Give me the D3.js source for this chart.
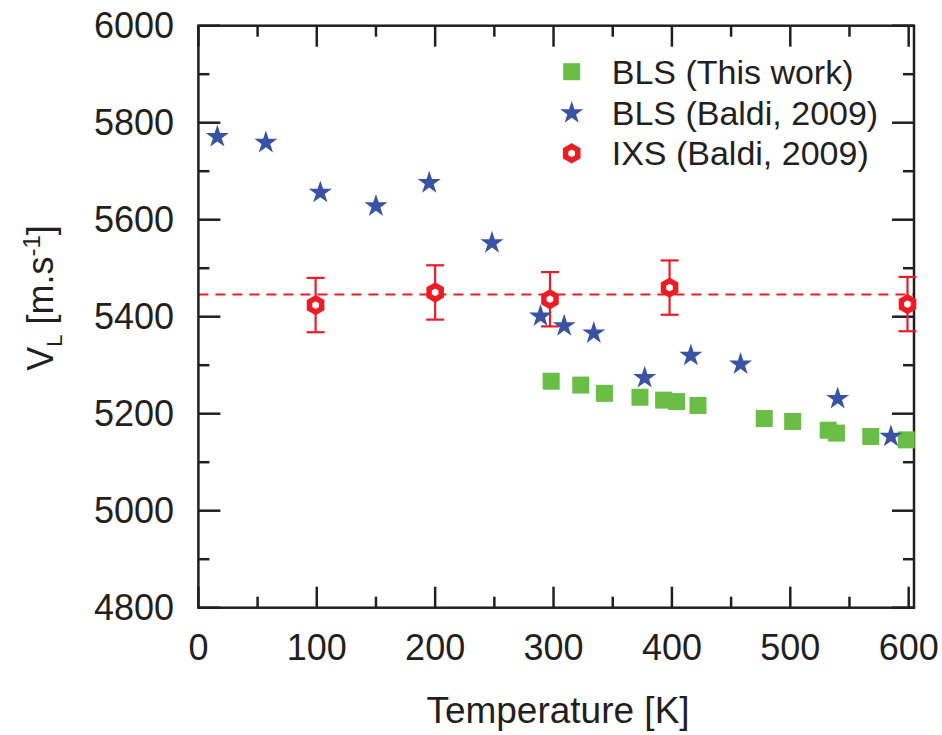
<!DOCTYPE html>
<html>
  <head>
    <script src="https://d3js.org/d3.v7.min.js"></script>
    <style>
      html,
      body {
        margin: 0;
        background: #fff;
        font-family: "Liberation Sans", Arial, sans-serif;
      }
    </style>
  </head>
  <body>
    <div id="chart"></div>
    <script>
      // BLS (This work)
      const blsThisT = [298, 323, 343, 373, 393, 404, 422, 478, 502, 532, 539, 568, 598];
      const blsThisV = [5267, 5259, 5242, 5234, 5228, 5225, 5217, 5190, 5184, 5166, 5160, 5153, 5146];

      // BLS (Baldi, 2009)
      const blsBaldiT = [16, 57, 103, 150, 195, 248, 289, 309, 334, 377, 416, 458, 540, 585];
      const blsBaldiV = [5771, 5759, 5656, 5628, 5676, 5552, 5401, 5381, 5366, 5274, 5320, 5302, 5231, 5153];

      // IXS (Baldi, 2009)
      const ixsT = [99, 200, 297, 398, 599];
      const ixsV = [5424, 5450, 5436, 5460, 5426];
      const ixsErr = [56, 56, 56, 56, 56];
      const ixsMean = 5446;

      const xTicks = [0, 100, 200, 300, 400, 500, 600];
      const yTicks = [4800, 5000, 5200, 5400, 5600, 5800, 6000];
      const legendLabels = ["BLS (This work)", "BLS (Baldi, 2009)", "IXS (Baldi, 2009)"];

      const width = 942;
      const height = 735;
      const ink = "#231f20";
      const green = "#6abd45";
      const blue = "#3953a4";
      const red = "#ed1c24";

      const svg = d3
        .select("#chart")
        .append("svg")
        .attr("width", width)
        .attr("height", height);

      const x = d3.scaleLinear().domain([0, 604.5]).range([198.4, 914]);
      const y = d3.scaleLinear().domain([4800, 6000]).range([607.7, 25.7]);

      const [x0, x1] = x.range();
      const [y0, y1] = y.range();

      //dashed mean line of IXS
      svg
        .append("line")
        .attr("x1", x0)
        .attr("x2", x1)
        .attr("y1", y(ixsMean))
        .attr("y2", y(ixsMean))
        .attr("stroke", red)
        .attr("stroke-width", 2)
        .attr("stroke-dasharray", "10,7");

      //frame ticks (inward, on all four sides)
      const xMinor = d3.range(0, 601, 50);
      const yMinor = d3.range(4800, 6001, 100);
      const tickG = svg.append("g").attr("stroke", ink).attr("stroke-width", 2.5);

      xMinor.forEach((t) => {
        const len = t % 100 === 0 ? 21 : 11;
        tickG.append("line").attr("x1", x(t)).attr("x2", x(t)).attr("y1", y0).attr("y2", y0 - len);
        tickG.append("line").attr("x1", x(t)).attr("x2", x(t)).attr("y1", y1).attr("y2", y1 + len);
      });
      yMinor.forEach((v) => {
        const len = v % 200 === 0 ? 22 : 11;
        tickG.append("line").attr("x1", x0).attr("x2", x0 + len).attr("y1", y(v)).attr("y2", y(v));
        tickG.append("line").attr("x1", x1).attr("x2", x1 - len).attr("y1", y(v)).attr("y2", y(v));
      });

      svg
        .append("rect")
        .attr("x", x0)
        .attr("y", y1)
        .attr("width", x1 - x0)
        .attr("height", y0 - y1)
        .attr("fill", "none")
        .attr("stroke", ink)
        .attr("stroke-width", 2.5);

      //tick labels
      svg
        .selectAll(".xlab")
        .data(xTicks)
        .enter()
        .append("text")
        .attr("x", (d) => x(d))
        .attr("y", 660)
        .attr("text-anchor", "middle")
        .attr("font-size", 36)
        .attr("fill", ink)
        .text((d) => d);

      svg
        .selectAll(".ylab")
        .data(yTicks)
        .enter()
        .append("text")
        .attr("x", 174)
        .attr("y", (d) => y(d) + 12.5)
        .attr("text-anchor", "end")
        .attr("font-size", 36)
        .attr("fill", ink)
        .text((d) => d);

      //axis titles
      svg
        .append("text")
        .attr("x", 558)
        .attr("y", 723)
        .attr("text-anchor", "middle")
        .attr("font-size", 37)
        .attr("fill", ink)
        .text("Temperature [K]");

      const yTitle = svg
        .append("text")
        .attr("transform", "translate(53,298) rotate(-90)")
        .attr("text-anchor", "middle")
        .attr("font-size", 36)
        .attr("fill", ink);
      yTitle.append("tspan").text("V");
      yTitle.append("tspan").attr("font-size", 22).attr("dy", 9).text("L");
      yTitle.append("tspan").attr("dy", -9).text(" [m.s");
      yTitle.append("tspan").attr("font-size", 24).attr("dy", -13).text("-1");
      yTitle.append("tspan").attr("dy", 13).text("]");

      //symbols
      const star = d3.symbol().type(d3.symbolStar).size(165);
      const hexPath = (r) =>
        d3
          .range(6)
          .map((i) => {
            const a = (Math.PI / 3) * i - Math.PI / 2;
            return (i ? "L" : "M") + r * Math.cos(a) + "," + r * Math.sin(a);
          })
          .join("") + "Z";

      function drawSquare(g) {
        g.append("rect").attr("x", -8.5).attr("y", -8.5).attr("width", 17).attr("height", 17).attr("fill", green);
      }
      function drawStar(g) {
        g.append("path").attr("d", star()).attr("fill", blue);
      }
      function drawHex(g) {
        g.append("path")
          .attr("d", hexPath(7))
          .attr("fill", "#fff")
          .attr("stroke", red)
          .attr("stroke-width", 5.5)
          .attr("stroke-linejoin", "miter");
      }

      //IXS error bars
      const errG = svg.append("g").attr("stroke", red).attr("stroke-width", 2.2);
      ixsT.forEach((t, i) => {
        const cx = x(t);
        const top = y(ixsV[i] + ixsErr[i]);
        const bot = y(ixsV[i] - ixsErr[i]);
        errG.append("line").attr("x1", cx).attr("x2", cx).attr("y1", top).attr("y2", bot);
        errG.append("line").attr("x1", cx - 9).attr("x2", cx + 9).attr("y1", top).attr("y2", top);
        errG.append("line").attr("x1", cx - 9).attr("x2", cx + 9).attr("y1", bot).attr("y2", bot);
      });

      blsThisT.forEach((t, i) => {
        drawSquare(svg.append("g").attr("transform", `translate(${x(t)},${y(blsThisV[i])})`));
      });
      blsBaldiT.forEach((t, i) => {
        drawStar(svg.append("g").attr("transform", `translate(${x(t)},${y(blsBaldiV[i])})`));
      });
      ixsT.forEach((t, i) => {
        drawHex(svg.append("g").attr("transform", `translate(${x(t)},${y(ixsV[i])})`));
      });

      //legend
      const legendDraw = [drawSquare, drawStar, drawHex];
      const legendY = [71.7, 113, 153.3];
      legendLabels.forEach((label, i) => {
        const g = svg.append("g").attr("transform", `translate(571.7,${legendY[i]})`);
        legendDraw[i](g);
        g.append("text")
          .attr("x", 40)
          .attr("y", 12)
          .attr("font-size", 34)
          .attr("fill", ink)
          .text(label);
      });
    </script>
  </body>
</html>
